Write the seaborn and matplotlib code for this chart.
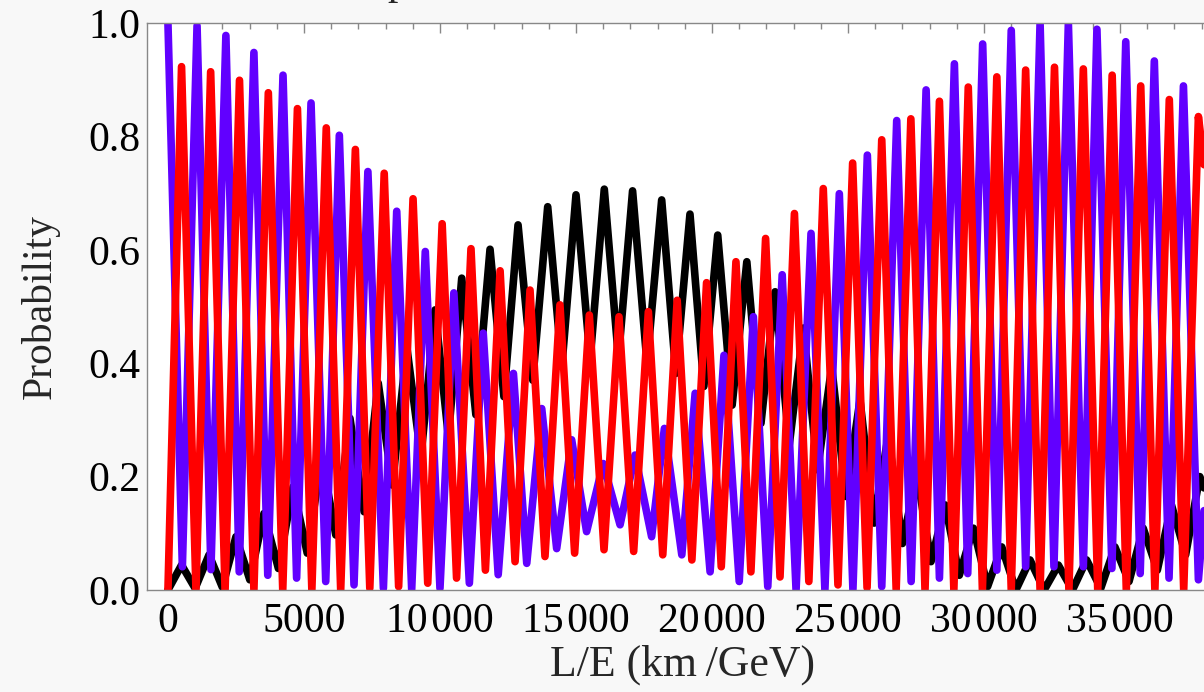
import pandas as pd
import matplotlib
matplotlib.use('Agg')
import matplotlib.pyplot as plt
from matplotlib.ticker import FixedLocator, FixedFormatter, MultipleLocator
import seaborn as sns

# ======= values (turning points of each curve) =======
# x = L/E in km/GeV, p = probability

# black curve
black_peak_x = [500, 1510, 2500, 3530, 4600, 5650, 6690, 7730, 8780, 9820,
                10800, 11840, 12870, 13960, 15000, 16040, 17080, 18150, 19190, 20210,
                21280, 22320, 23360, 24400, 25440, 26480, 27530, 28570, 29610, 30650,
                31690, 32730, 33770, 34810, 35850, 36890, 37930]
black_peak_p = [0.044, 0.062, 0.094, 0.135, 0.182, 0.235, 0.303, 0.365, 0.429, 0.494,
                0.550, 0.601, 0.644, 0.676, 0.697, 0.707, 0.704, 0.688, 0.663, 0.626,
                0.579, 0.526, 0.462, 0.394, 0.335, 0.273, 0.206, 0.150, 0.109, 0.076,
                0.053, 0.044, 0.053, 0.076, 0.109, 0.150, 0.200]
black_trough_x = [0, 1000, 2000, 3010, 4060, 5120, 6170, 7210, 8250, 9300,
                  10310, 11320, 12350, 13410, 14480, 15520, 16560, 17610, 18670, 19700,
                  20740, 21800, 22840, 23880, 24920, 25960, 27000, 28050, 29090, 30130,
                  31170, 32210, 33250, 34290, 35330, 36370, 37410]
black_trough_p = [0.0, 0.003, 0.005, 0.018, 0.038, 0.065, 0.097, 0.138, 0.185, 0.235,
                  0.270, 0.309, 0.341, 0.370, 0.394, 0.406, 0.409, 0.400, 0.382, 0.359,
                  0.326, 0.294, 0.256, 0.212, 0.165, 0.118, 0.082, 0.050, 0.026, 0.006,
                  0.0, 0.0, 0.0, 0.003, 0.015, 0.035, 0.062]

# purple curve
purple_peak_x = [0, 1070, 2130, 3160, 4230, 5260, 6300, 7350, 8410, 9460,
                 10510, 11590, 12700, 13740, 14840, 16000, 17170, 18250, 19380, 20440,
                 21520, 22580, 23640, 24680, 25710, 26790, 27870, 28910, 29950, 31000,
                 32060, 33100, 34150, 35210, 36260, 37330]
purple_peak_p = [1.000, 0.995, 0.978, 0.948, 0.908, 0.859, 0.802, 0.738, 0.668, 0.597,
                 0.524, 0.453, 0.382, 0.320, 0.265, 0.223, 0.238, 0.285, 0.347, 0.414,
                 0.482, 0.556, 0.629, 0.699, 0.767, 0.828, 0.882, 0.928, 0.963, 0.987,
                 1.000, 1.000, 0.989, 0.967, 0.933, 0.889]
purple_trough_x = [530, 1580, 2620, 3670, 4730, 5800, 6840, 7920, 8960, 10000,
                   11080, 12140, 13190, 14290, 15390, 16620, 17780, 18890, 19930, 21000,
                   22050, 23090, 24150, 25180, 26240, 27320, 28360, 29400, 30470, 31530,
                   32570, 33650, 34700, 35740, 36800, 37880]
purple_trough_p = [0.041, 0.036, 0.032, 0.026, 0.021, 0.015, 0.009, 0.003, 0.001, 0.003,
                   0.012, 0.027, 0.047, 0.073, 0.103, 0.115, 0.094, 0.062, 0.032, 0.015,
                   0.006, 0.0, 0.0, 0.001, 0.006, 0.015, 0.021, 0.029, 0.035, 0.041,
                   0.041, 0.041, 0.038, 0.029, 0.021, 0.018]

# red curve
red_peak_x = [500, 1570, 2630, 3690, 4760, 5820, 6890, 7950, 9010, 10080,
              11140, 12210, 13310, 14410, 15490, 16580, 17660, 18720, 19800, 20880,
              21970, 23030, 24090, 25170, 26240, 27310, 28360, 29420, 30470, 31530,
              32590, 33650, 34710, 35760, 36810, 37880]
red_peak_p = [0.923, 0.914, 0.899, 0.877, 0.849, 0.815, 0.777, 0.735, 0.690, 0.646,
              0.602, 0.563, 0.529, 0.503, 0.485, 0.482, 0.491, 0.511, 0.542, 0.579,
              0.620, 0.664, 0.708, 0.753, 0.794, 0.831, 0.862, 0.887, 0.905, 0.917,
              0.922, 0.919, 0.908, 0.889, 0.865, 0.835]
red_trough_x = [0, 1030, 2100, 3160, 4220, 5290, 6350, 7420, 8480, 9550,
                10610, 11670, 12760, 13860, 14950, 16030, 17120, 18190, 19260, 20340,
                21430, 22500, 23560, 24630, 25700, 26770, 27830, 28890, 29940, 31000,
                32060, 33120, 34180, 35230, 36280, 37340]
red_trough_p = [0.0, 0.0, 0.0, 0.0, 0.0, 0.0, 0.0, 0.003, 0.006, 0.012,
                0.021, 0.035, 0.050, 0.059, 0.065, 0.071, 0.068, 0.062, 0.053, 0.041,
                0.032, 0.023, 0.015, 0.009, 0.004, 0.001, 0.0, 0.0, 0.0, 0.0,
                0.0, 0.0, 0.0, 0.0, 0.0, 0.0]

# where the curves leave the picture on the right
edge_x = 38090
edge_p = [0.18, 0.14, 0.75]          # black, purple, red

curve_names = ['black', 'purple', 'red']
curve_colors = ['#000000', '#6100FF', '#FF0000']

xtick_values = [0, 5000, 10000, 15000, 20000, 25000, 30000, 35000]
xtick_labels = ['0', '5000', '10\u200a000', '15\u200a000', '20\u200a000',
                '25\u200a000', '30\u200a000', '35\u200a000']
ytick_values = [0.0, 0.2, 0.4, 0.6, 0.8, 1.0]
ytick_labels = ['0.0', '0.2', '0.4', '0.6', '0.8', '1.0']

# ======= 整理成长表 =======
parts = []
for name, px, pp, tx, tp, ep in [
        ('black', black_peak_x, black_peak_p, black_trough_x, black_trough_p, edge_p[0]),
        ('purple', purple_peak_x, purple_peak_p, purple_trough_x, purple_trough_p, edge_p[1]),
        ('red', red_peak_x, red_peak_p, red_trough_x, red_trough_p, edge_p[2])]:
    parts.append(pd.DataFrame({'LE': list(px) + list(tx) + [edge_x],
                               'P': list(pp) + list(tp) + [ep],
                               'curve': name}))
df = pd.concat(parts, ignore_index=True)

# ======= 绘图配置 =======
sns.set_theme(style='white')
plt.rcParams['font.family'] = ['Liberation Serif', 'DejaVu Serif']

fig = plt.figure(figsize=(12.04, 6.92), dpi=100, facecolor='#f8f8f8')
ax = fig.add_axes([147 / 1204, 102 / 692, 1065 / 1204, 567 / 692])
ax.set_facecolor('white')

sns.lineplot(data=df, x='LE', y='P', hue='curve', hue_order=curve_names,
             palette=curve_colors, estimator=None, sort=True, legend=False,
             linewidth=5.5, solid_joinstyle='round', ax=ax)

ax.set_xlim(-770, 38380)
ax.set_ylim(0, 1)

ax.xaxis.set_major_locator(FixedLocator(xtick_values))
ax.xaxis.set_major_formatter(FixedFormatter(xtick_labels))
ax.xaxis.set_minor_locator(MultipleLocator(1000))
ax.yaxis.set_major_locator(FixedLocator(ytick_values))
ax.yaxis.set_major_formatter(FixedFormatter(ytick_labels))
ax.yaxis.set_minor_locator(MultipleLocator(0.05))

ax.tick_params(which='both', direction='in', top=True, right=False,
               color='#888888', width=1, labelsize=30, labelcolor='black')
ax.tick_params(which='major', length=7)
ax.tick_params(which='minor', length=4)
ax.tick_params(axis='y', pad=5)
ax.tick_params(axis='x', pad=9)
for s in ax.spines.values():
    s.set_color('#888888')
    s.set_linewidth(1)

ax.set_xlabel('L/E (km\u2009/GeV)', fontsize=31.5)
ax.set_ylabel('Probability', fontsize=30)
ax.xaxis.set_label_coords(0.503, -0.097)
ax.yaxis.set_label_coords(-0.082, 0.5)

# 标题只剩一点点露在图片上沿
fig.text(398 / 1204, 1.009, 'p', ha='center', va='baseline', fontsize=30)

fig.savefig('out.png', dpi=100, facecolor=fig.get_facecolor())
